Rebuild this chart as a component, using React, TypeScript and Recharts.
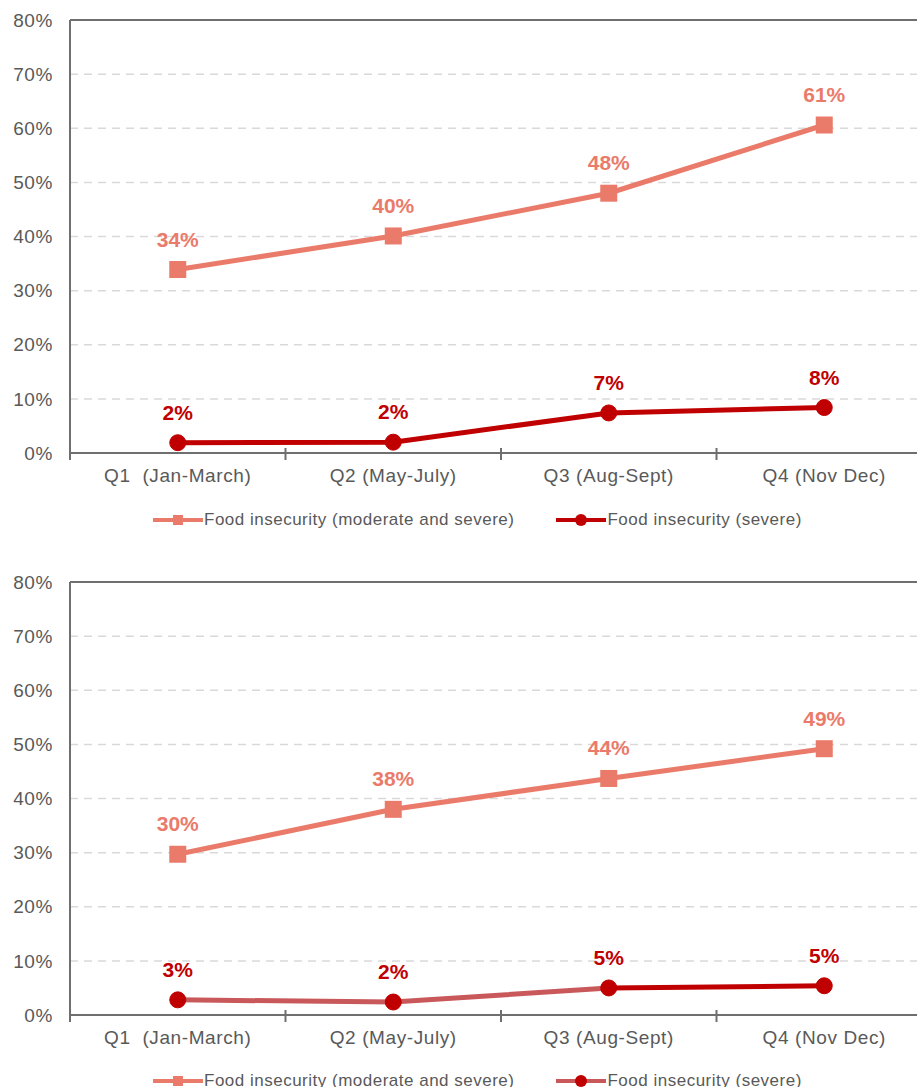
import React from 'react';
import { CartesianGrid, LabelList, Legend, Line, LineChart, ReferenceLine, XAxis, YAxis } from 'recharts';

const quarters = ['Q1\u00a0 (Jan-March)', 'Q2 (May-July)', 'Q3 (Aug-Sept)', 'Q4 (Nov Dec)'];
const moderateTop = [33.9, 40.1, 48.0, 60.6];
const severeTop = [1.9, 2.0, 7.4, 8.4];
const moderateBottom = [29.7, 38.0, 43.7, 49.2];
const severeBottom = [2.8, 2.4, 5.0, 5.4];
const yTicks = [0, 10, 20, 30, 40, 50, 60, 70, 80];
const seriesNames = ['Food insecurity (moderate and severe)', 'Food insecurity (severe)'];

const SALMON = '#EA7B6A';
const DARK = '#C00000';
const MUTED = '#C9585B';
const GREY = '#595959';
const AXIS = '#6F6F6F';
const FONT = '"Liberation Sans", Arial, sans-serif';

const pct = (v: any) => `${Math.round(Number(v))}%`;

function QuarterTick(props: any) {
  const { x, y, payload } = props;
  const half = payload.offset ?? 0;
  return (
    <g>
      <line x1={x - half} x2={x - half} y1={y - 5} y2={y + 7} stroke={AXIS} strokeWidth={2} />
      <text x={x} y={y + 29} textAnchor="middle" fill={GREY} fontSize={19} letterSpacing={0.6} fontFamily={FONT}>
        {payload.value}
      </text>
    </g>
  );
}

function SquareDot(props: any) {
  const { cx, cy, index } = props;
  if (cx == null || cy == null) return <g key={`sq-${index}`} />;
  return <rect key={`sq-${index}`} x={cx - 8.5} y={cy - 8.5} width={17} height={17} fill={SALMON} />;
}

function LegendBox({ severeLine }: { severeLine: string }) {
  const item = (color: string, marker: React.ReactNode, label: string) => (
    <div style={{ display: 'flex', alignItems: 'center' }}>
      <svg width={50} height={14}>
        <line x1={0} x2={50} y1={7} y2={7} stroke={color} strokeWidth={4} />
        {marker}
      </svg>
      <span style={{ marginLeft: 1 }}>{label}</span>
    </div>
  );
  return (
    <div style={{ height: 64, boxSizing: 'border-box', position: 'relative', top: -15, paddingTop: 11, paddingLeft: 153, display: 'flex', gap: 42, fontFamily: FONT, fontSize: 17, letterSpacing: 0.5, color: GREY }}>
      {item(SALMON, <rect x={20} y={2} width={10} height={10} fill={SALMON} />, seriesNames[0])}
      {item(severeLine, <circle cx={25} cy={7} r={6} fill={DARK} />, seriesNames[1])}
    </div>
  );
}

function Panel({ moderate, severe, faded }: { moderate: number[]; severe: number[]; faded?: boolean }) {
  const data = quarters.map((q, i) => ({ quarter: q, moderate: moderate[i], severe: severe[i] }));
  const gradId = faded ? 'sevFaded' : 'sevSolid';
  return (
    <LineChart width={940} height={561} data={data} margin={{ top: 20, right: 8, left: 0, bottom: 0 }}>
      <defs>
        <linearGradient id={gradId} x1="0" y1="0" x2="1" y2="0">
          <stop offset="0%" stopColor={faded ? MUTED : DARK} />
          <stop offset="66.6%" stopColor={faded ? MUTED : DARK} />
          <stop offset="66.7%" stopColor={DARK} />
          <stop offset="100%" stopColor={DARK} />
        </linearGradient>
      </defs>
      <CartesianGrid vertical={false} stroke="#D9D9D9" strokeWidth={1.5} strokeDasharray="8 6" />
      <ReferenceLine y={80} stroke={AXIS} strokeWidth={2} />
      <XAxis
        dataKey="quarter"
        scale="band"
        height={44}
        axisLine={{ stroke: AXIS, strokeWidth: 2 }}
        tickLine={false}
        tickSize={0}
        tickMargin={0}
        interval={0}
        tick={<QuarterTick />}
      />
      <YAxis
        domain={[0, 80]}
        ticks={yTicks}
        width={70}
        tickFormatter={(v) => `${v}%`}
        axisLine={{ stroke: AXIS, strokeWidth: 2 }}
        tickLine={false}
        tickSize={0}
        tickMargin={17}
        tick={{ fill: GREY, fontSize: 19, letterSpacing: 0.6, fontFamily: FONT }}
      />
      <Legend verticalAlign="bottom" content={() => <LegendBox severeLine={faded ? MUTED : DARK} />} />
      <Line
        dataKey="moderate"
        name={seriesNames[0]}
        stroke={SALMON}
        strokeWidth={5}
        dot={<SquareDot />}
        activeDot={false}
        isAnimationActive={false}
      >
        <LabelList dataKey="moderate" position="top" offset={23} formatter={pct} fill={SALMON} fontSize={21} fontWeight="bold" fontFamily={FONT} />
      </Line>
      <Line
        dataKey="severe"
        name={seriesNames[1]}
        stroke={`url(#${gradId})`}
        strokeWidth={5}
        dot={{ r: 8, fill: DARK, stroke: DARK, strokeWidth: 1 }}
        activeDot={false}
        isAnimationActive={false}
      >
        <LabelList dataKey="severe" position="top" offset={23} formatter={pct} fill={DARK} fontSize={21} fontWeight="bold" fontFamily={FONT} />
      </Line>
    </LineChart>
  );
}

export default function App() {
  return (
    <div style={{ position: 'absolute', left: 0, top: 0, width: 917, height: 1087, overflow: 'hidden', background: '#fff' }}>
      <div style={{ position: 'absolute', left: 0, top: 0 }}>
        <Panel moderate={moderateTop} severe={severeTop} />
      </div>
      <div style={{ position: 'absolute', left: 0, top: 561.5 }}>
        <Panel moderate={moderateBottom} severe={severeBottom} faded />
      </div>
    </div>
  );
}
